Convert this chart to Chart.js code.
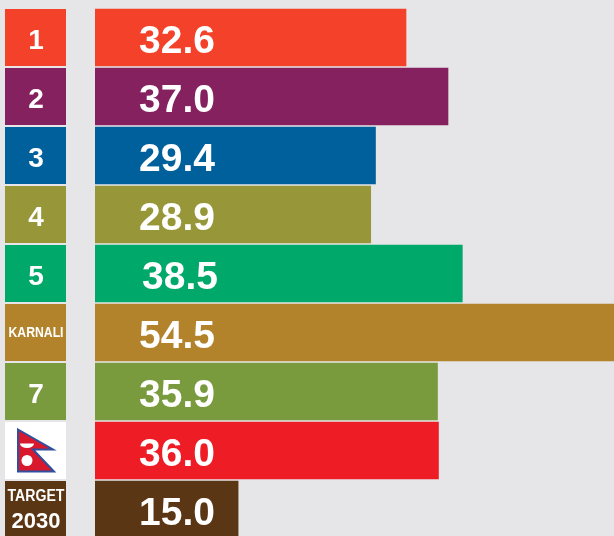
<!DOCTYPE html>
<html>
<head>
<meta charset="utf-8">
<style>
    html, body { margin: 0; padding: 0; width: 614px; height: 536px; overflow: hidden; background: #e6e6e8; }
    canvas { display: block; }
</style>
<script src="https://cdn.jsdelivr.net/npm/chart.js@4"></script>
</head>
<body>
<canvas id="povertyChart" width="614" height="539"></canvas>
<script>
const categories = ["1", "2", "3", "4", "5", "KARNALI", "7", "NEPAL", "TARGET 2030"];
const values = [32.6, 37.0, 29.4, 28.9, 38.5, 54.5, 35.9, 36.0, 15.0];
const barColors = ["#f4422a", "#85215f", "#00609c", "#979739", "#00a869", "#b3832b", "#7a9a3e", "#ee1c25", "#5a3614"];

const FONT = '"Liberation Sans", Arial, sans-serif';

// Nepal flag, sized from the badge
function drawFlag(ctx, cx, cy) {
    ctx.save();
    ctx.translate(cx, cy);
    const shape = [[-18, -21], [17, -1], [-3, -1], [18, 21], [-18, 21]];
    ctx.beginPath();
    shape.forEach((p, i) => i ? ctx.lineTo(p[0], p[1]) : ctx.moveTo(p[0], p[1]));
    ctx.closePath();
    ctx.fillStyle = "#d8182c";
    ctx.fill();
    ctx.lineWidth = 2;
    ctx.strokeStyle = "#2f4f9f";
    ctx.stroke();
    ctx.fillStyle = "#ffffff";
    ctx.beginPath();
    ctx.ellipse(-9, -7, 7, 4.5, 0, 0, Math.PI);
    ctx.fill();
    ctx.beginPath();
    ctx.arc(-9, 10, 5.5, 0, Math.PI * 2);
    ctx.fill();
    ctx.restore();
}

// Badges on the left and the values inside the bars
const badgePlugin = {
    id: "badges",
    afterDatasetsDraw(chart) {
        const ctx = chart.ctx;
        const bars = chart.getDatasetMeta(0).data;
        ctx.save();
        ctx.textAlign = "center";
        ctx.textBaseline = "middle";
        bars.forEach((bar, i) => {
            const top = bar.y - bar.height / 2;
            const name = categories[i];
            ctx.fillStyle = name === "NEPAL" ? "#ffffff" : barColors[i];
            ctx.fillRect(5, top, 61, bar.height);
            ctx.fillStyle = "#ffffff";
            if (name === "NEPAL") {
                drawFlag(ctx, 36, bar.y);
            } else if (name === "KARNALI") {
                ctx.font = "bold 14px " + FONT;
                ctx.fillText(name, 36, bar.y + 1, 55);
            } else if (name === "TARGET 2030") {
                ctx.font = "bold 16px " + FONT;
                ctx.fillText("TARGET", 36, bar.y - 13, 57);
                ctx.font = "bold 22px " + FONT;
                ctx.fillText("2030", 36, bar.y + 12, 52);
            } else {
                ctx.font = "bold 28px " + FONT;
                ctx.fillText(name, 36, bar.y + 4);
            }
            ctx.textAlign = "left";
            ctx.font = "bold 39px " + FONT;
            ctx.fillText(values[i].toFixed(1), values[i] === 38.5 ? 142 : 139, bar.y + 5);
            ctx.textAlign = "center";
        });
        ctx.restore();
    }
};

new Chart(document.getElementById("povertyChart"), {
    type: "bar",
    data: {
        labels: categories,
        datasets: [{
            data: values,
            backgroundColor: barColors,
            barThickness: 57
        }]
    },
    options: {
        indexAxis: "y",
        responsive: false,
        animation: false,
        layout: { padding: { left: 95, top: 8, right: 0, bottom: 0 } },
        plugins: { legend: { display: false }, tooltip: { enabled: false } },
        scales: {
            x: { display: false, min: 0, max: 54.4 },
            y: { display: false }
        }
    },
    plugins: [badgePlugin]
});
</script>
</body>
</html>
